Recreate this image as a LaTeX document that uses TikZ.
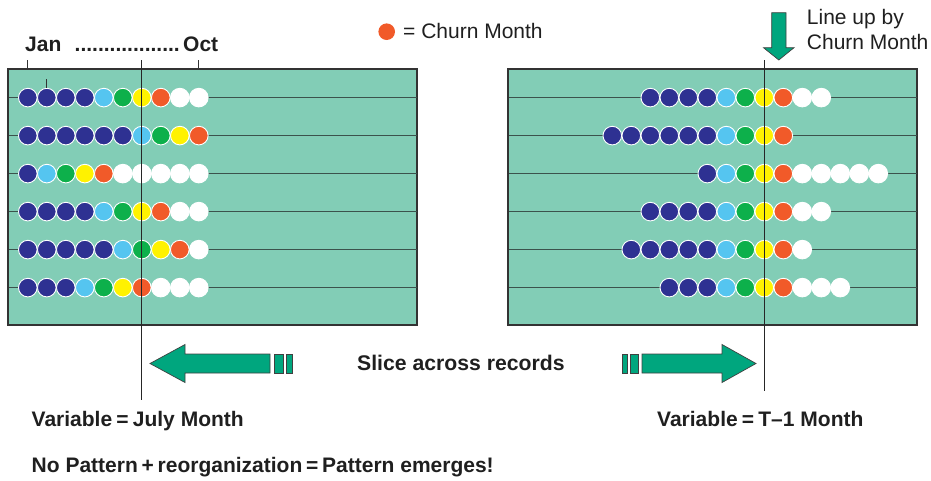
\documentclass[tikz,border=0pt]{standalone}
\usepackage{fontspec}
\setmainfont{Liberation Sans}
\definecolor{panel}{HTML}{82CDB6}
\definecolor{rowline}{HTML}{3B524C}
\definecolor{frame}{HTML}{333333}
\definecolor{colD}{HTML}{2E3192}
\definecolor{colL}{HTML}{55C5F0}
\definecolor{colG}{HTML}{0DB04B}
\definecolor{colY}{HTML}{FFF200}
\definecolor{colO}{HTML}{F15A29}
\definecolor{colW}{HTML}{FFFFFF}
\definecolor{arrowgreen}{HTML}{00A67E}
\newcommand{\eqsp}[1]{\hspace{#1em}}
\begin{document}
\begin{tikzpicture}[x=1pt,y=-1pt,
  panelbox/.style={draw=frame, line width=1.2pt, fill=panel, rectangle, inner sep=0pt},
  rowrule/.style={draw=rowline, line width=1.4pt},
  bead/.style={circle, draw=white, line width=0.9pt, minimum size=18.6pt, inner sep=0pt},
  slice/.style={draw=black!85, line width=1.2pt},
  tick/.style={draw=black!80, line width=1.2pt},
  fatarrow/.style={fill=arrowgreen, draw=black!75, line width=0.7pt},
  boldlabel/.style={font=\bfseries\fontsize{21}{25}\selectfont, inner sep=0pt, anchor=base west, text=black!88},
  plainlabel/.style={font=\fontsize{21}{25}\selectfont, inner sep=0pt, anchor=base west, text=black!88}]

\useasboundingbox (0,0) rectangle (931,480);

% record sequences (D dark blue, L light blue, G green, Y yellow, O churn, W empty)
\def\rowA{D,D,D,D,L,G,Y,O,W,W}
\def\rowB{D,D,D,D,D,D,L,G,Y,O}
\def\rowC{D,L,G,Y,O,W,W,W,W,W}
\def\rowD{D,D,D,D,L,G,Y,O,W,W}
\def\rowE{D,D,D,D,D,L,G,Y,O,W}
\def\rowF{D,D,D,L,G,Y,O,W,W,W}

% panels
\node[panelbox, minimum width=409pt, minimum height=256pt] (lpanel) at (212.5,197) {};
\node[panelbox, minimum width=409pt, minimum height=256pt] (rpanel) at (712.5,197) {};

% record rows: calendar-aligned (left) and churn-aligned (right)
\foreach \r/\k/\seq in {1/6/\rowA, 2/8/\rowB, 3/3/\rowC, 4/6/\rowD, 5/7/\rowE, 6/5/\rowF}{
  \pgfmathsetmacro{\ry}{97.6+38*(\r-1)}
  \edef\seqlist{\seq}
  \draw[rowrule] (8.5,\ry) -- (416.5,\ry);
  \draw[rowrule] (508.5,\ry) -- (916.5,\ry);
  \foreach \c [count=\i from 0] in \seqlist {
    \node[bead, fill=col\c] (L\r-\i) at ({27.8+19*\i},\ry) {};
    \node[bead, fill=col\c] (R\r-\i) at ({764.3+19*(\i-\k)},\ry) {};
  }
}

% month ticks
\draw[tick] (27.8,60) -- (27.8,69);
\draw[tick] (198.8,60) -- (198.8,69);
\draw[tick] (46.8,79) -- (46.8,88);

% slice lines
\coordinate (ltop) at (141.8,60);
\coordinate (lbot) at (141.8,400);
\coordinate (rtop) at (764.3,60);
\coordinate (rbot) at (764.3,391);
\draw[slice] (ltop) -- (lbot);
\draw[slice] (rtop) -- (rbot);

% month axis labels
\node[boldlabel] (jan) at (25,51.5) {Jan};
\node[boldlabel] (dots) at (74.5,51.5) {..................};
\node[boldlabel] (oct) at (183,51.5) {Oct};

% legend
\node[circle, fill=colO, minimum size=16.6pt, inner sep=0pt] (legdot) at (386.7,31.7) {};
\node[plainlabel] (legtext) at (403,38.3) {= Churn Month};

% line-up arrow and label
\filldraw[fatarrow] (771.7,12.7) -- (786,12.7) -- (786,47.7) -- (794,47.7)
  -- (778.8,60) -- (763.5,47.7) -- (771.7,47.7) -- cycle;
\node[plainlabel] (lineup1) at (806.7,24) {Line up by};
\node[plainlabel] (lineup2) at (806.7,49.3) {Churn Month};

% slice arrows
\filldraw[fatarrow] (150,363.5) -- (185,344.5) -- (185,354) -- (270,354)
  -- (270,373) -- (185,373) -- (185,382.5) -- cycle;
\filldraw[fatarrow] (274,354) rectangle (283,373);
\filldraw[fatarrow] (286,354) rectangle (292,373);
\filldraw[fatarrow] (756,363.5) -- (722,344.5) -- (722,354) -- (642,354)
  -- (642,373) -- (722,373) -- (722,382.5) -- cycle;
\filldraw[fatarrow] (622,354) rectangle (627,373);
\filldraw[fatarrow] (630,354) rectangle (638,373);
\node[boldlabel, font=\bfseries\fontsize{21.2}{25}\selectfont] (slice) at (357,370.5) {Slice across records};

% captions
\node[boldlabel] (varjuly) at (31.5,426) {Variable\eqsp{0.2}=\eqsp{0.2}July Month};
\node[boldlabel] (vart) at (657,426) {Variable\eqsp{0.2}=\eqsp{0.2}T–1 Month};
\node[boldlabel] (summary) at (31.5,472.5) {No Pattern\eqsp{0.18}+\eqsp{0.18}reorganization\eqsp{0.18}=\eqsp{0.18}Pattern emerges!};
\end{tikzpicture}
\end{document}
